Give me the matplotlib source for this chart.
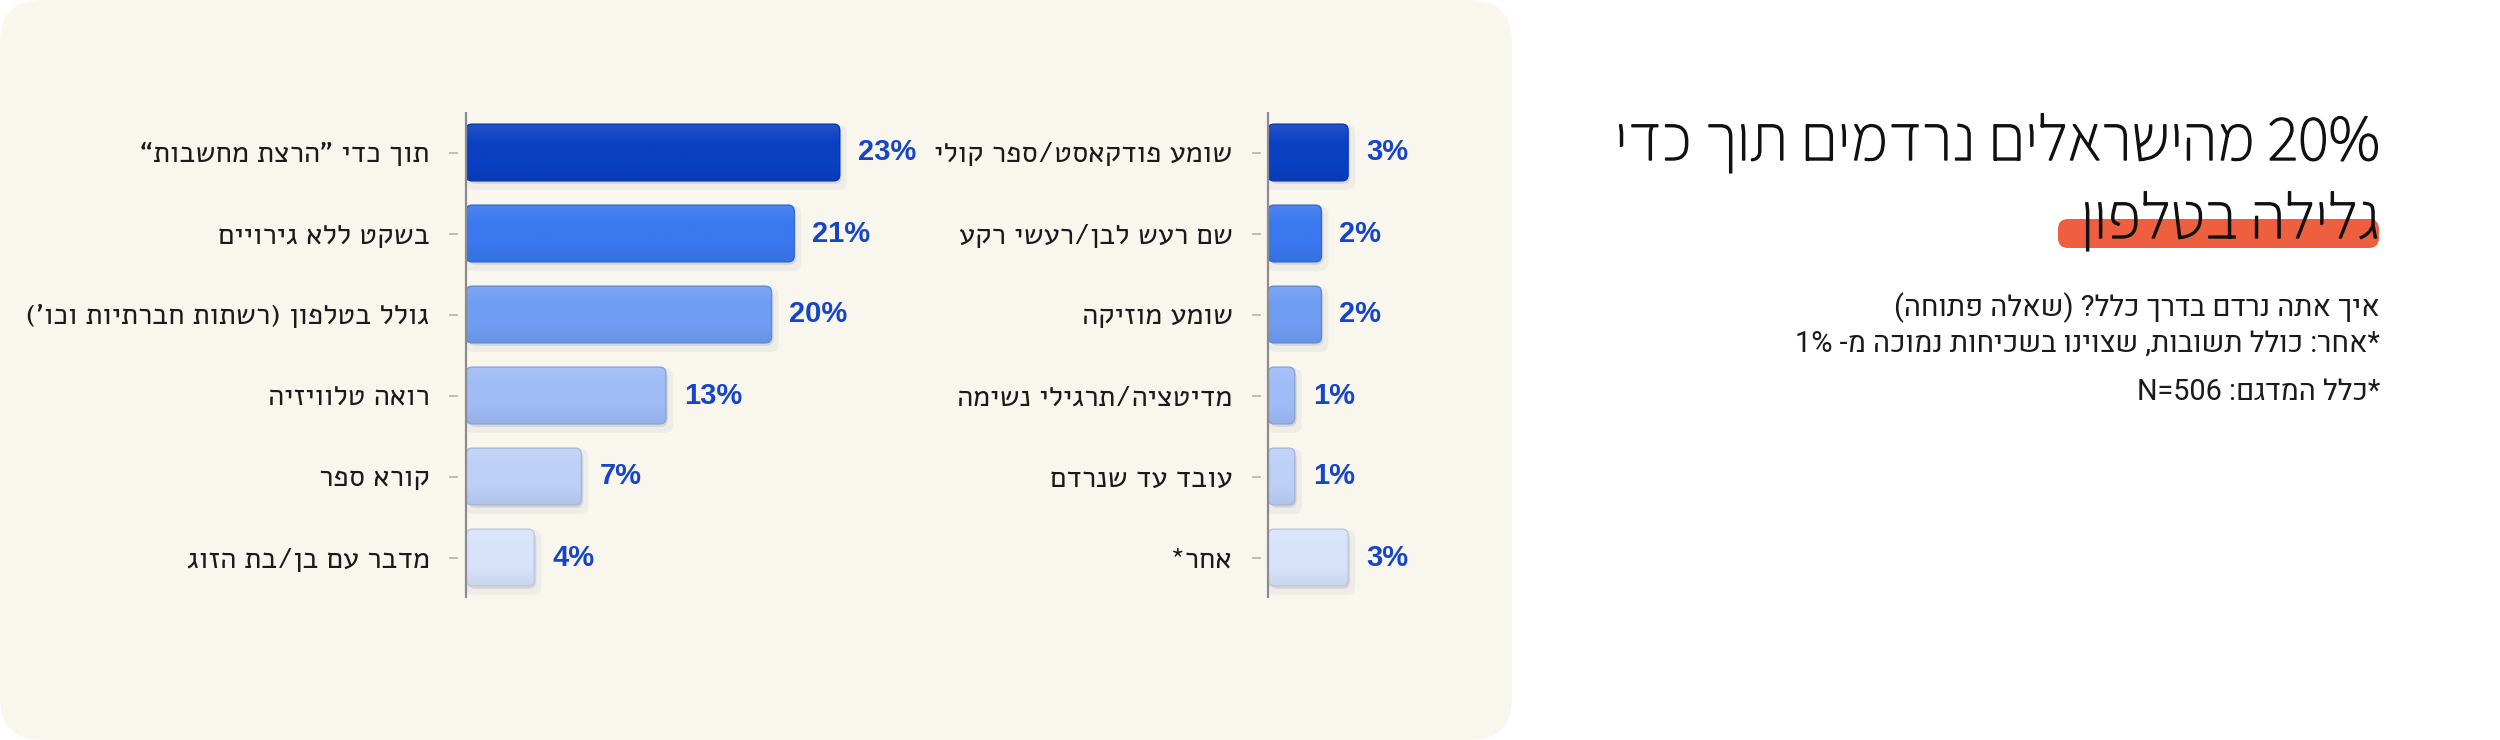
import re
import numpy as np
import matplotlib
matplotlib.use("Agg")
import matplotlib.pyplot as plt
import matplotlib.patheffects as pe
from matplotlib.patches import FancyBboxPatch
from matplotlib.colors import LinearSegmentedColormap, to_rgb

# ---- data ----
left_cats = ["תוך כדי ”הרצת מחשבות“", "בשקט ללא גירויים", "גולל בטלפון (רשתות חברתיות וכו')",
             "רואה טלוויזיה", "קורא ספר", "מדבר עם בן/בת הזוג"]
left_vals = [23, 20.2, 18.8, 12.3, 7.1, 4.2]          # bar lengths
left_labels = ["23%", "21%", "20%", "13%", "7%", "4%"]  # printed labels

right_cats = ["שומע פודקאסט/ספר קולי", "שם רעש לבן/רעשי רקע", "שומע מוזיקה",
              "מדיטציה/תרגילי נשימה", "עובד עד שנרדם", "אחר*"]
right_vals = [3, 2, 2, 1, 1, 3]
right_labels = ["3%", "2%", "2%", "1%", "1%", "3%"]

bar_colors = ["#0a40c2", "#3a78ef", "#6f9df2", "#9fbcf6", "#bdd0f8", "#d8e3fb"]

title_lines = ["20% מהישראלים נרדמים תוך כדי", "גלילה בטלפון"]
sub_lines = ["איך אתה נרדם בדרך כלל? (שאלה פתוחה)",
             "*אחר: כולל תשובות, שצוינו בשכיחות נמוכה מ- 1%",
             "*כלל המדגם: N=506"]

HEB = "Alef"
SUB_FONT = "Heebo"
TITLE_FONT = "Assistant"
NUM_FONT = ["Liberation Sans", "DejaVu Sans"]

LTR = re.compile(r"[A-Za-z0-9][A-Za-z0-9%=.]*")
MIRROR = str.maketrans("()", ")(")


def rtl(s):
    # visual order for a right-to-left line (no bidi lib available)
    parts = []
    pos = 0
    for m in LTR.finditer(s):
        if m.start() > pos:
            parts.append(s[pos:m.start()][::-1].translate(MIRROR))
        parts.append(m.group())
        pos = m.end()
    if pos < len(s):
        parts.append(s[pos:][::-1].translate(MIRROR))
    return "".join(reversed(parts))


def lighten(c, f):
    r, g, b = to_rgb(c)
    return (r + (1 - r) * f, g + (1 - g) * f, b + (1 - b) * f)


def darken(c, f):
    r, g, b = to_rgb(c)
    return (r * (1 - f), g * (1 - f), b * (1 - f))


W, H = 2500, 740
fig = plt.figure(figsize=(W / 100, H / 100), dpi=100)
fig.patch.set_facecolor("white")


def px(x, y):
    # figure pixels, origin top-left -> inches
    return x / 100, (H - y) / 100


# cream panel
panel = FancyBboxPatch(px(0, 740), 15.12, 7.40, boxstyle="round,pad=0,rounding_size=0.42",
                       transform=fig.dpi_scale_trans, facecolor="#f9f6ee", edgecolor="none", zorder=-5)
fig.patches.append(panel)


def draw_chart(ax_left, axis_x, ax_right, px_per_unit, cats, vals, labels):
    top, bottom = 112, 598
    ax = fig.add_axes([ax_left / W, (H - bottom) / H, (ax_right - ax_left) / W, (bottom - top) / H])
    ax.set_facecolor("none")
    lo = -(axis_x - ax_left) / px_per_unit
    hi = lo + (ax_right - ax_left) / px_per_unit
    row_px = (bottom - top) / len(cats)
    asp = px_per_unit / row_px
    h = 0.70
    r = 6 / px_per_unit

    for i, v in enumerate(vals):
        col = bar_colors[i]
        y0 = i - h / 2
        for dx, dy, a, grow in [(3, 5, 0.06, 4), (2, 3, 0.15, 0)]:
            sh = FancyBboxPatch((dx / px_per_unit - grow / px_per_unit, y0 + dy / row_px - grow / row_px),
                                v + 2 * grow / px_per_unit, h + 2 * grow / row_px,
                                boxstyle=f"round,pad=0,rounding_size={r * 1.3}", mutation_aspect=asp,
                                facecolor="#4a5670", edgecolor="none", alpha=a, zorder=1)
            ax.add_patch(sh)
        bar = FancyBboxPatch((0, y0), v, h, boxstyle=f"round,pad=0,rounding_size={r}",
                             mutation_aspect=asp, facecolor=col, edgecolor="none", zorder=2)
        ax.add_patch(bar)
        cmap = LinearSegmentedColormap.from_list("g", [lighten(col, 0.10), col, col, darken(col, 0.06)])
        im = ax.imshow(np.linspace(0, 1, 64).reshape(-1, 1), extent=(0, v, i + h / 2, i - h / 2),
                       cmap=cmap, aspect="auto", interpolation="bicubic", zorder=3)
        im.set_clip_path(bar)
        edge = FancyBboxPatch((0, y0), v, h, boxstyle=f"round,pad=0,rounding_size={r}",
                              mutation_aspect=asp, facecolor="none", edgecolor=darken(col, 0.12),
                              linewidth=1.0, zorder=4)
        ax.add_patch(edge)
        ax.text(v + 18 / px_per_unit, i, labels[i], ha="left", va="center", fontsize=21,
                fontweight="bold", color="#1645c9", family=NUM_FONT, zorder=5)

    ax.axvline(0, color="#8c8c8c", linewidth=1.6, zorder=5)
    ax.set_xlim(lo, hi)
    ax.set_ylim(len(cats) - 0.5, -0.5)
    ax.set_yticks(range(len(cats)))
    ax.set_yticklabels([rtl(c) for c in cats], fontsize=21, family=HEB, color="#1a1a1a")
    ax.tick_params(axis="y", length=6.5, width=1.3, color="#b8b8b8", pad=14)
    ax.xaxis.set_visible(False)
    for s in ax.spines.values():
        s.set_visible(False)
    return ax


draw_chart(458, 466, 1000, 16.25, left_cats, left_vals, left_labels)
draw_chart(1261, 1268, 1480, 26.7, right_cats, right_vals, right_labels)

# orange brush highlight behind the second title line
hl = FancyBboxPatch(px(2058, 248), 3.21, 0.29, boxstyle="round,pad=0,rounding_size=0.1",
                    transform=fig.dpi_scale_trans, facecolor="#ee5f3f", edgecolor="none", zorder=1)
fig.patches.append(hl)

for line, yb in zip(title_lines, [160, 238]):
    fig.text(*px(2380, yb), rtl(line), ha="right", va="baseline", fontsize=46.5,
             family=TITLE_FONT, color="#111111", transform=fig.dpi_scale_trans, zorder=3,
             path_effects=[pe.withStroke(linewidth=1.0, foreground="#111111")])

for line, yb in zip(sub_lines, [316, 352, 400]):
    fig.text(*px(2380, yb), rtl(line), ha="right", va="baseline", fontsize=20.8,
             family=SUB_FONT, color="#1a1a1a", transform=fig.dpi_scale_trans, zorder=3)

fig.savefig("out.png", dpi=100)
